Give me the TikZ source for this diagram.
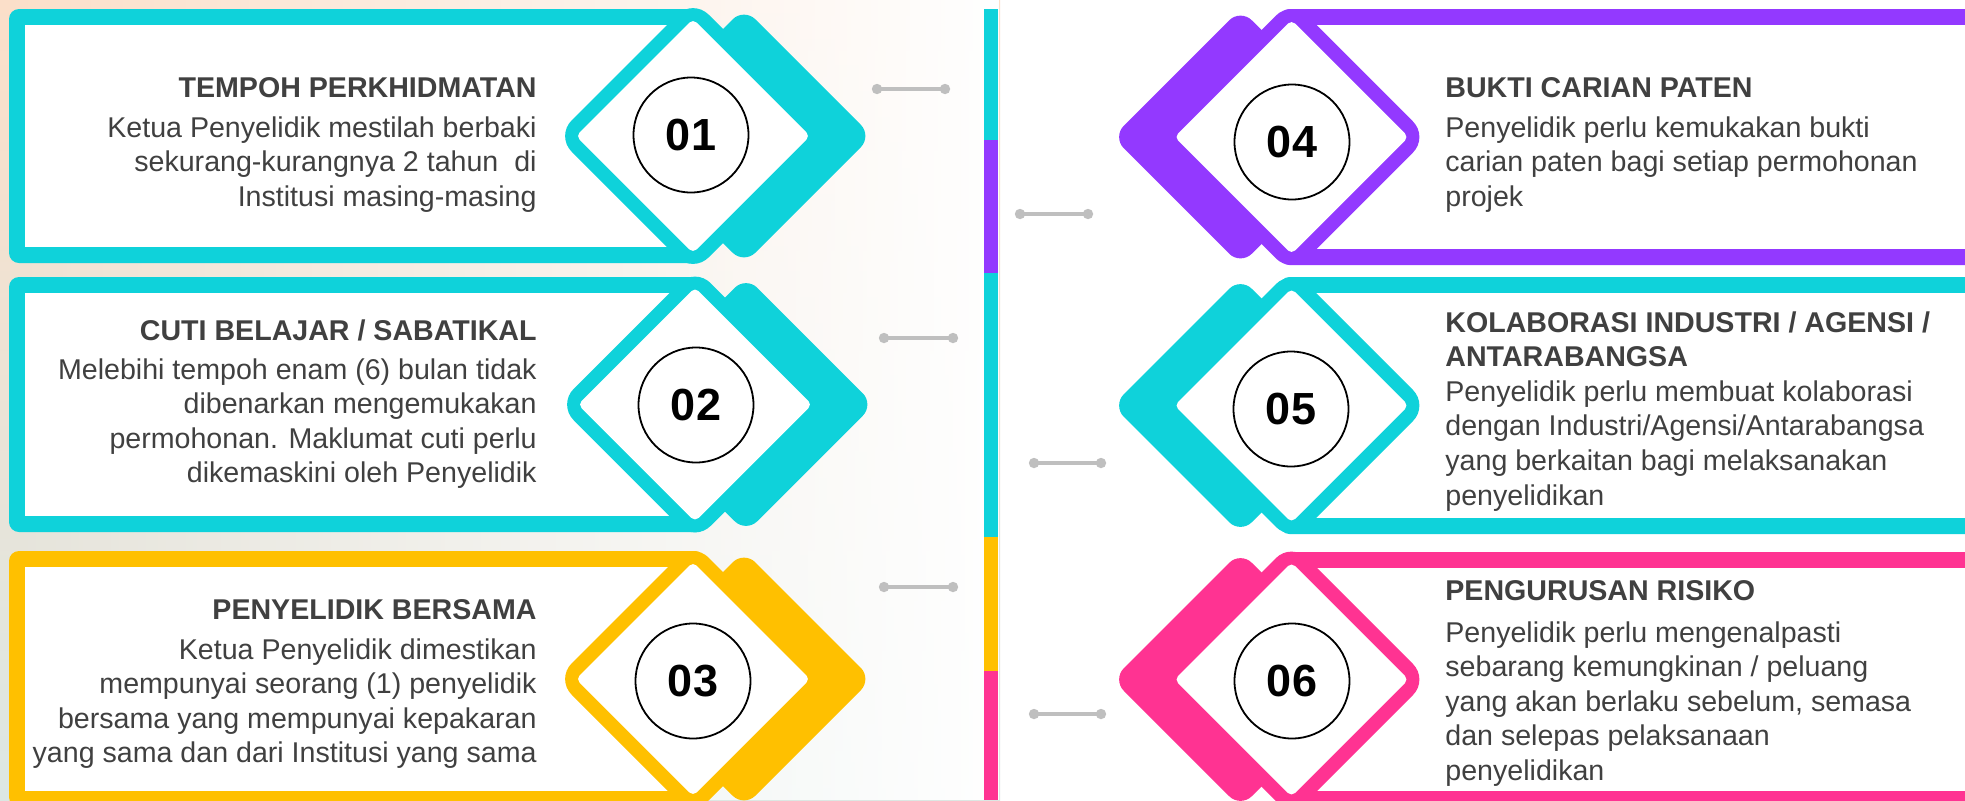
\documentclass[tikz,border=0pt]{standalone}
\usepackage{fontspec}
\setmainfont{Liberation Sans}
\usetikzlibrary{fadings}
\definecolor{cyanc}{HTML}{0FD2DA}
\definecolor{purp}{HTML}{9339FF}
\definecolor{yell}{HTML}{FFC000}
\definecolor{pinkc}{HTML}{FF3392}
\definecolor{txt}{HTML}{404040}
\definecolor{conncol}{HTML}{BFBFBF}
\definecolor{peach}{HTML}{FBDFC9}
\definecolor{sage}{HTML}{DCE7E3}
\tikzfading[name=bgfade, left color=transparent!100, right color=transparent!0]
% diamond: #1 options, #2 cx, #3 cy, #4 half diagonal
\newcommand\dmd[4]{\fill[#1] (#2-#4,#3) -- (#2,#3-#4) -- (#2+#4,#3) -- (#2,#3+#4) -- cycle;}
% left card: #1 colour, #2 cx, #3 cy, #4 top, #5 bottom
\newcommand\leftcard[5]{%
  \dmd{#1,rounded corners=8pt}{#2+51}{#3}{128}
  \fill[#1,rounded corners=5pt] (9,#4) rectangle (#2+12,#5);
  \fill[white] (25,#4+16) rectangle (#2,#5-16);
  \dmd{#1,rounded corners=11pt}{#2}{#3}{137}
  \dmd{white,rounded corners=2.5pt}{#2}{#3}{117}
}
\newcommand\rightcard[5]{%
  \dmd{#1,rounded corners=8pt}{#2-51}{#3}{128}
  \fill[#1,rounded corners=5pt] (#2-12,#4) rectangle (1990,#5);
  \fill[white] (#2,#4+16) rectangle (1990,#5-16);
  \dmd{#1,rounded corners=11pt}{#2}{#3}{137}
  \dmd{white,rounded corners=2.5pt}{#2}{#3}{117}
}
\tikzset{
  txtnode/.style={inner sep=0pt, text=txt, font=\fontsize{14.3pt}{17.3pt}\selectfont},
  numc/.style={circle, draw=black, line width=0.9pt, fill=white, minimum size=57.5pt, inner sep=0pt,
    font=\bfseries\fontsize{22.5pt}{22.5pt}\selectfont},
  connline/.style={draw=conncol, line width=2pt},
  conndot/.style={fill=conncol}
}
\begin{document}
\begin{tikzpicture}[x=0.5pt,y=-0.5pt]
\useasboundingbox (0,0) rectangle (1965,800);
\clip (0,0) rectangle (1965,800);
\fill[white] (0,0) rectangle (1965,800);
\shade[top color=peach, bottom color=sage] (0,0) rectangle (1000,800);
\fill[white, path fading=bgfade] (0,0) rectangle (1000,800);

% vertical bar
\fill[cyanc] (984,9) rectangle (998,140);
\fill[purp] (984,140) rectangle (998,273);
\fill[cyanc] (984,273) rectangle (998,537);
\fill[yell] (984,537) rectangle (998,671);
\fill[pinkc] (984,671) rectangle (998,800);

% cards
\leftcard{cyanc}{693}{136}{9}{263}
\leftcard{cyanc}{695}{404.5}{277}{532}
\leftcard{yell}{693}{679}{551}{807}
\rightcard{purp}{1291.5}{137}{9}{265}
\rightcard{cyanc}{1291.5}{405.5}{277}{534}
\rightcard{pinkc}{1291.5}{679.5}{552}{807}

% number circles
\node[numc] (n1) at (691,135) {01};
\node[numc] (n2) at (696,405) {02};
\node[numc] (n3) at (693,681) {03};
\node[numc] (n4) at (1292,142) {04};
\node[numc] (n5) at (1291,409) {05};
\node[numc] (n6) at (1292,681) {06};

% texts left
\node[txtnode, anchor=base east] (t1) at (537,97) {\begin{tabular}[t]{@{}r@{}}\textbf{TEMPOH PERKHIDMATAN}\\[2.7pt]
Ketua Penyelidik mestilah berbaki\\ sekurang-kurangnya 2 tahun\ \ di\\ Institusi masing-masing\end{tabular}};
\node[txtnode, anchor=base east] (t2) at (537,340) {\begin{tabular}[t]{@{}r@{}}\textbf{CUTI BELAJAR / SABATIKAL}\\[2.2pt]
Melebihi tempoh enam (6) bulan tidak\\ dibenarkan mengemukakan\\ permohonan. Maklumat cuti perlu\\ dikemaskini oleh Penyelidik\end{tabular}};
\node[txtnode, anchor=base east] (t3) at (537,619) {\begin{tabular}[t]{@{}r@{}}\textbf{PENYELIDIK BERSAMA}\\[2.7pt]
Ketua Penyelidik dimestikan\\ mempunyai seorang (1) penyelidik\\ bersama yang mempunyai kepakaran\\ yang sama dan dari Institusi yang sama\end{tabular}};

% texts right
\node[txtnode, anchor=base west] (t4) at (1445,97) {\begin{tabular}[t]{@{}l@{}}\textbf{BUKTI CARIAN PATEN}\\[2.7pt]
Penyelidik perlu kemukakan bukti\\ carian paten bagi setiap permohonan\\ projek\end{tabular}};
\node[txtnode, anchor=base west] (t5) at (1445,332) {\begin{tabular}[t]{@{}l@{}}\textbf{KOLABORASI INDUSTRI / AGENSI /}\\ \textbf{ANTARABANGSA}\\
Penyelidik perlu membuat kolaborasi\\ dengan Industri/Agensi/Antarabangsa\\ yang berkaitan bagi melaksanakan\\ penyelidikan\end{tabular}};
\node[txtnode, anchor=base west] (t6) at (1445,600) {\begin{tabular}[t]{@{}l@{}}\textbf{PENGURUSAN RISIKO}\\[3.7pt]
Penyelidik perlu mengenalpasti\\ sebarang kemungkinan / peluang\\ yang akan berlaku sebelum, semasa\\ dan selepas pelaksanaan\\ penyelidikan\end{tabular}};

% connectors
\coordinate (l1a) at (877,89);  \coordinate (l1b) at (945,89);
\coordinate (l2a) at (884,338); \coordinate (l2b) at (953,338);
\coordinate (l3a) at (884,587); \coordinate (l3b) at (953,587);
\coordinate (r1a) at (1020,214); \coordinate (r1b) at (1088,214);
\coordinate (r2a) at (1034,463); \coordinate (r2b) at (1101,463);
\coordinate (r3a) at (1034,714); \coordinate (r3b) at (1101,714);
\foreach \p in {l1,l2,l3,r1,r2,r3}{
  \draw[connline] (\p a) -- (\p b);
  \fill[conndot] (\p a) circle[radius=2.6pt];
  \fill[conndot] (\p b) circle[radius=2.6pt];
}
\end{tikzpicture}
\end{document}
